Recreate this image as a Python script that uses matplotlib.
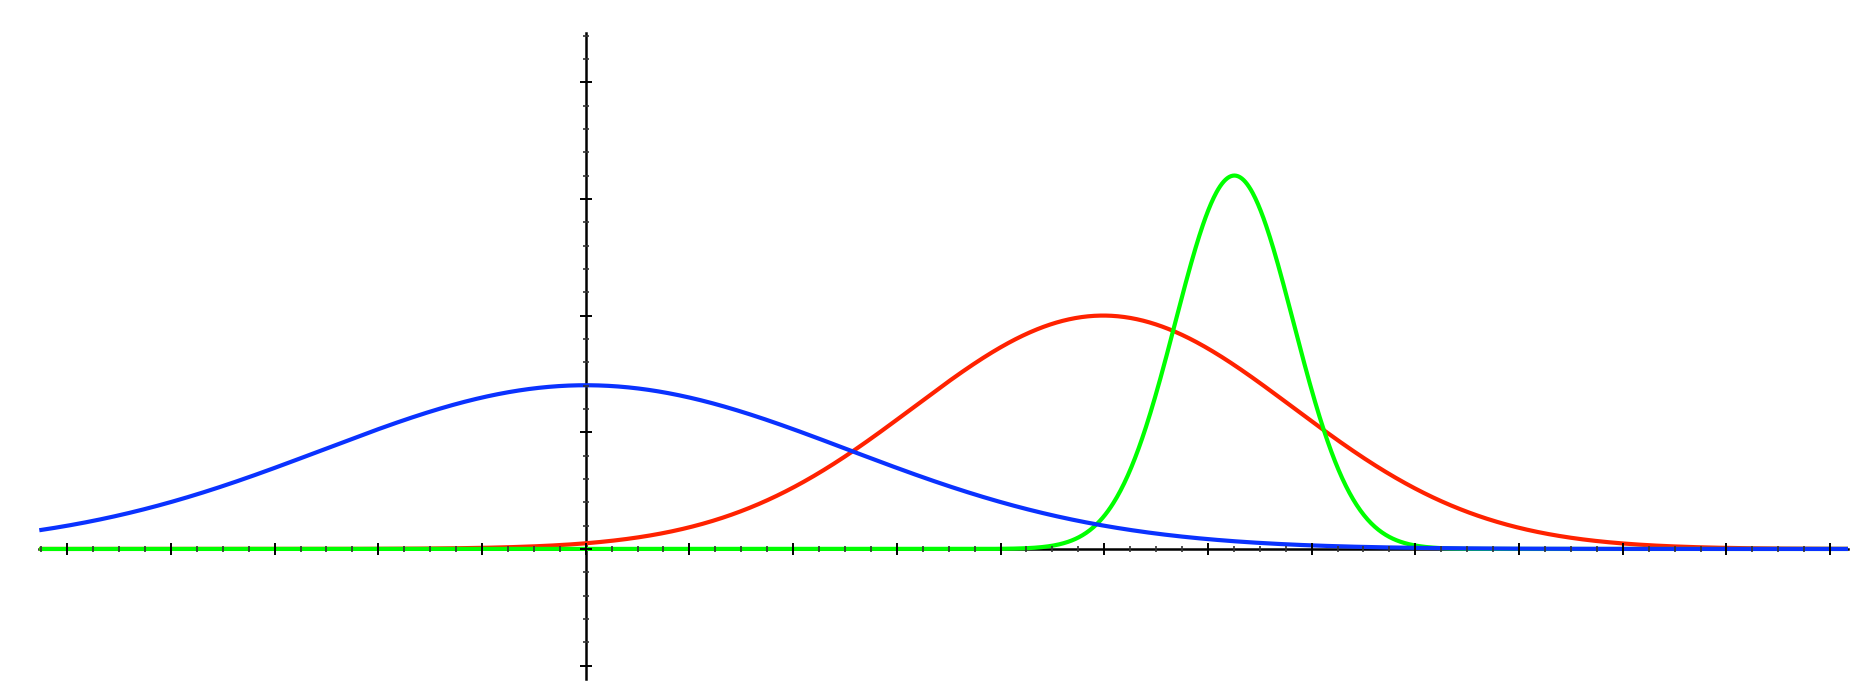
import numpy as np
import matplotlib
matplotlib.use("Agg")
import matplotlib.pyplot as plt
from matplotlib.ticker import MultipleLocator, NullFormatter

# Curve parameters (x in major-tick units, y in major-tick units)
curve_names = ["blue", "red", "green"]
curve_centers = [0.0, 4.99, 6.255]
curve_peaks = [1.403, 2.0, 3.2]
curve_widths = [2.53, 1.83, 0.57]
curve_colors = ["#0a32ff", "#ff2200", "#00ff00"]

x_range = [-5.269, 12.172]
y_range = [-1.117, 4.419]

W, H = 1862, 696
fig = plt.figure(figsize=(W / 100, H / 100), dpi=100)
left_px, right_px, top_px, bottom_px = 39.3, 1848.0, 33.3, 679.3
ax = fig.add_axes([left_px / W, 1 - bottom_px / H, (right_px - left_px) / W, (bottom_px - top_px) / H])
ax.set_xlim(*x_range)
ax.set_ylim(*y_range)

x = np.linspace(x_range[0], x_range[1], 2000)
order = [1, 2, 0]  # red bottom, green, blue on top
for k, i in enumerate(order):
    y = curve_peaks[i] * np.exp(-((x - curve_centers[i]) ** 2) / (2 * curve_widths[i] ** 2))
    ax.plot(x, y, color=curve_colors[i], lw=3.0, solid_capstyle="butt", zorder=2 + 0.1 * k)

for s in ["top", "right"]:
    ax.spines[s].set_visible(False)
ax.spines["left"].set_position(("data", 0))
ax.spines["bottom"].set_position(("data", 0))
for s in ["left", "bottom"]:
    ax.spines[s].set_linewidth(1.8)
    ax.spines[s].set_zorder(1)
ax.xaxis.set_zorder(2.6)
ax.yaxis.set_zorder(2.6)

ax.xaxis.set_major_locator(MultipleLocator(1))
ax.xaxis.set_minor_locator(MultipleLocator(0.25))
ax.yaxis.set_major_locator(MultipleLocator(1))
ax.yaxis.set_minor_locator(MultipleLocator(0.2))
ax.xaxis.set_major_formatter(NullFormatter())
ax.yaxis.set_major_formatter(NullFormatter())
ax.tick_params(which="major", direction="inout", length=8.6, width=1.4, color="black")
ax.tick_params(which="minor", direction="inout", length=4.3, width=1.2, color="#333333")
ax.patch.set_visible(False)

fig.savefig("out.png", dpi=100, facecolor="white")
